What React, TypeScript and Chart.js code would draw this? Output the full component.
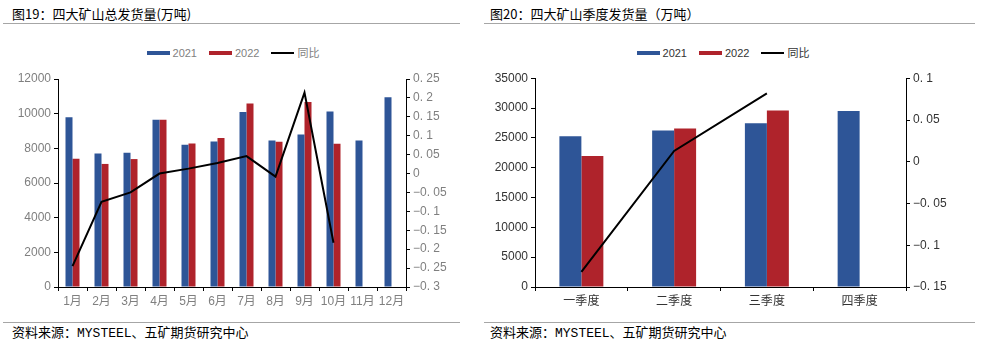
import React, { useEffect, useRef } from 'react';
import { Chart, registerables } from 'chart.js';

Chart.register(...registerables);

// ---- Data: 图19 monthly shipments (万吨) ----
const months = ['1月', '2月', '3月', '4月', '5月', '6月', '7月', '8月', '9月', '10月', '11月', '12月'];
const ship2021 = [9800, 7700, 7750, 9650, 8200, 8400, 10100, 8450, 8800, 10120, 8450, 10950];
const ship2022 = [7400, 7100, 7380, 9650, 8280, 8600, 10580, 8380, 10680, 8270, null, null];
const yoyMonthly = [-0.245, -0.075, -0.05, 0.0, 0.013, 0.028, 0.046, -0.008, 0.214, -0.183, null, null];

// ---- Data: 图20 quarterly shipments (万吨) ----
const quarters = ['一季度', '二季度', '三季度', '四季度'];
const q2021 = [25300, 26250, 27450, 29500];
const q2022 = [21950, 26600, 29600, null];
const yoyQuarterly = [-0.132, 0.013, 0.082, null];

const seriesNames = ['2021', '2022', '同比'];

const BLUE = '#2E5597';
const RED = '#AF232B';
const TICK_FONT = '"Liberation Sans Narrow", "Liberation Sans", "Noto Sans CJK SC", sans-serif';
const CJK_FONT = '"Noto Sans CJK SC", sans-serif';

const fmtRatio = (v: number) => {
  const r = Math.round(v * 100) / 100;
  if (r === 0) return '0';
  const s = Math.abs(r).toString();
  const [i, d] = s.split('.');
  return (r < 0 ? '−' : '') + i + (d ? '. ' + d : '');
};

type ComboProps = {
  labels: string[];
  a: (number | null)[];
  b: (number | null)[];
  line: (number | null)[];
  yMin: number; yMax: number; yStep: number;
  y1Min: number; y1Max: number; y1Step: number;
  tickColor: string;
  catPct: number;
  left: number; top: number; width: number; height: number;
  leftW: number; rightW: number; bottomH: number; topPad: number;
};

function ComboChart(p: ComboProps) {
  const ref = useRef<HTMLCanvasElement | null>(null);
  useEffect(() => {
    if (!ref.current) return;
    const font = { family: TICK_FONT, size: 12 };
    const chart = new Chart(ref.current, {
      type: 'bar',
      data: {
        labels: p.labels,
        datasets: [
          {
            type: 'line',
            label: seriesNames[2],
            data: p.line,
            yAxisID: 'y1',
            borderColor: '#000',
            borderWidth: 2,
            pointRadius: 0,
            tension: 0,
            order: 0,
          } as any,
          {
            type: 'bar',
            label: seriesNames[0],
            data: p.a,
            yAxisID: 'y',
            backgroundColor: BLUE,
            barPercentage: 1,
            categoryPercentage: p.catPct,
            order: 1,
          },
          {
            type: 'bar',
            label: seriesNames[1],
            data: p.b,
            yAxisID: 'y',
            backgroundColor: RED,
            barPercentage: 1,
            categoryPercentage: p.catPct,
            order: 2,
          },
        ],
      },
      options: {
        responsive: false,
        animation: false,
        devicePixelRatio: 1,
        layout: { padding: { top: p.topPad, left: 0, right: 0, bottom: 0 } },
        plugins: { legend: { display: false }, tooltip: { enabled: false } },
        scales: {
          x: {
            grid: { display: true, drawOnChartArea: false, drawTicks: true, tickLength: 4, color: '#000', offset: true },
            border: { display: true, color: '#000', width: 1 },
            ticks: { color: p.tickColor, font, padding: 3, maxRotation: 0, autoSkip: false },
            afterFit: (s: any) => { s.height = p.bottomH; },
          },
          y: {
            position: 'left',
            min: p.yMin, max: p.yMax,
            grid: { display: true, drawOnChartArea: false, drawTicks: true, tickLength: 4, color: '#000' },
            border: { display: true, color: '#000', width: 1 },
            ticks: { stepSize: p.yStep, color: p.tickColor, font, padding: 3, callback: (v: any) => String(Math.round(Number(v))) },
            afterFit: (s: any) => { s.width = p.leftW; },
          },
          y1: {
            position: 'right',
            min: p.y1Min, max: p.y1Max,
            grid: { display: true, drawOnChartArea: false, drawTicks: true, tickLength: 4, color: '#000' },
            border: { display: true, color: '#000', width: 1 },
            ticks: { stepSize: p.y1Step, color: p.tickColor, font, padding: 3, callback: (v: any) => fmtRatio(Number(v)) },
            afterFit: (s: any) => { s.width = p.rightW; },
          },
        },
      } as any,
    });
    return () => chart.destroy();
  }, []);
  return (
    <div style={{ position: 'absolute', left: p.left, top: p.top, width: p.width, height: p.height }}>
      <canvas ref={ref} width={p.width} height={p.height} style={{ display: 'block' }} />
    </div>
  );
}

function Legend({ left, width, top, color }: { left: number; width: number; top: number; color: string }) {
  const items = [
    { name: seriesNames[0], kind: 'box', c: BLUE },
    { name: seriesNames[1], kind: 'box', c: RED },
    { name: seriesNames[2], kind: 'line', c: '#000' },
  ];
  return (
    <div style={{ position: 'absolute', left, top, width, height: 14, display: 'flex', justifyContent: 'center', alignItems: 'center' }}>
      {items.map((it, i) => (
        <div key={i} style={{ display: 'flex', alignItems: 'center', marginLeft: i === 0 ? 0 : 12 }}>
          <div style={{ width: 23, height: it.kind === 'box' ? 4 : 2, background: it.c }} />
          <span style={{ marginLeft: 3, font: `11px ${TICK_FONT}`, color, lineHeight: '14px' }}>{it.name}</span>
        </div>
      ))}
    </div>
  );
}

function Panel({ x, lineX, lineW, title }: { x: number; lineX: number; lineW: number; title: string }) {
  return (
    <>
      <div style={{ position: 'absolute', left: x, top: 6, font: `13px ${CJK_FONT}`, lineHeight: '16px', color: '#000', whiteSpace: 'nowrap' }}>{title}</div>
      <div style={{ position: 'absolute', left: lineX, top: 23, width: lineW, height: 1, background: '#a6a6a6' }} />
      <div style={{ position: 'absolute', left: lineX, top: 322, width: lineW, height: 1, background: '#a6a6a6' }} />
      <div style={{ position: 'absolute', left: x, top: 326, font: `13px "Liberation Mono", ${CJK_FONT}`, lineHeight: '16px', color: '#000', whiteSpace: 'nowrap' }}>资料来源：MYSTEEL、五矿期货研究中心</div>
    </>
  );
}

export default function App() {
  return (
    <div style={{ position: 'fixed', left: 0, top: 0, width: 989, height: 351, background: '#fff', overflow: 'hidden' }}>
      <Panel x={12} lineX={3} lineW={457} title="图19：四大矿山总发货量(万吨)" />
      <Panel x={490} lineX={484} lineW={491} title="图20：四大矿山季度发货量（万吨）" />
      <Legend left={0} width={466} top={46} color="#7f7f7f" />
      <Legend left={490} width={466} top={46} color="#333" />
      <ComboChart
        labels={months} a={ship2021} b={ship2022} line={yoyMonthly}
        yMin={0} yMax={12000} yStep={2000}
        y1Min={-0.3} y1Max={0.25} y1Step={0.05}
        tickColor="#7f7f7f" catPct={0.483}
        left={0} top={60} width={470} height={260}
        leftW={58} rightW={64} bottomH={33} topPad={19}
      />
      <ComboChart
        labels={quarters} a={q2021} b={q2022} line={yoyQuarterly}
        yMin={0} yMax={35000} yStep={5000}
        y1Min={-0.15} y1Max={0.1} y1Step={0.05}
        tickColor="#333" catPct={0.474}
        left={490} top={60} width={480} height={260}
        leftW={45} rightW={64} bottomH={33} topPad={18.3}
      />
    </div>
  );
}
